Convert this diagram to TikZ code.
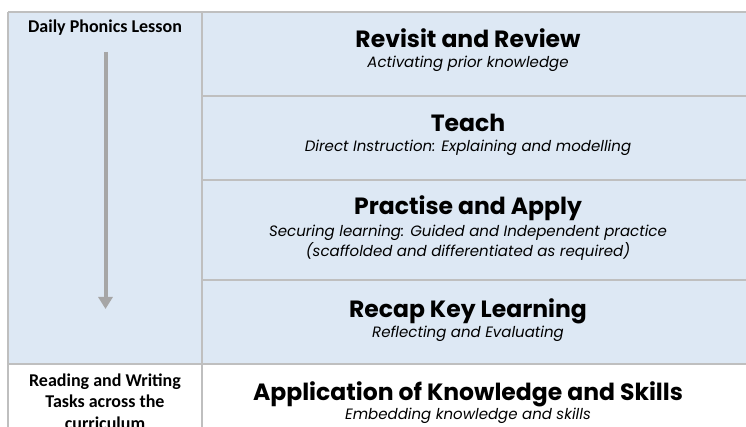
\documentclass[tikz,border=0pt]{standalone}
\usepackage{fontspec}
\setmainfont{Poppins}
\newfontfamily\labelfont{Carlito}
\usetikzlibrary{arrows.meta}
\definecolor{cellblue}{HTML}{DDE8F4}
\definecolor{gridgray}{HTML}{BFBFBF}
\definecolor{arrowgray}{HTML}{A6A6A6}
\tikzset{
  grid/.style={draw=gridgray, line width=1.5pt},
  sidelabel/.style={font=\labelfont\bfseries\fontsize{18}{21.5}\selectfont, align=center, text=black},
  stagetitle/.style={font=\bfseries\fontsize{23.5}{26}\selectfont, text=black, anchor=base},
  stagesub/.style={font=\itshape\fontsize{15}{17}\selectfont, text=black, align=center, anchor=base},
}
\begin{document}
\begin{tikzpicture}[x=1pt, y=-1pt]
  \useasboundingbox (0,0) rectangle (746,427);
  % shaded lesson block
  \fill[cellblue] (8,12) rectangle (746,364);
  % table rules
  \draw[grid] (8,12) -- (746,12);
  \draw[grid] (202,96) -- (746,96);
  \draw[grid] (202,180) -- (746,180);
  \draw[grid] (202,280) -- (746,280);
  \draw[grid] (8,364) -- (746,364);
  \draw[grid] (8,12) -- (8,427);
  \draw[grid] (202,12) -- (202,427);
  % left column
  \node[sidelabel, anchor=base] (lesson) at (105,33) {Daily Phonics Lesson};
  \node[sidelabel, anchor=north] (tasks) at (105,370) {Reading and Writing\\Tasks across the\\curriculum};
  \coordinate (flowtop) at (105.5,52);
  \coordinate (flowend) at (105.5,309);
  \draw[arrowgray, line width=4pt, -{Triangle[length=12pt, width=14pt]}] (flowtop) -- (flowend);
  % lesson stages
  \node[stagetitle] (revisit) at (468,48) {Revisit and Review};
  \node[stagesub] (revisitsub) at (468,68) {Activating prior knowledge};
  \node[stagetitle] (teach) at (468,132) {Teach};
  \node[stagesub] (teachsub) at (468,152) {Direct Instruction: Explaining and modelling};
  \node[stagetitle] (practise) at (468,215) {Practise and Apply};
  \node[stagesub, anchor=north] (practisesub) at (468,222) {Securing learning: Guided and Independent practice\\(scaffolded and differentiated as required)};
  \node[stagetitle] (recap) at (468,317) {Recap Key Learning};
  \node[stagesub] (recapsub) at (468,337) {Reflecting and Evaluating};
  \node[stagetitle] (apply) at (468,400) {Application of Knowledge and Skills};
  \node[stagesub] (applysub) at (468,419) {Embedding knowledge and skills};
\end{tikzpicture}
\end{document}
